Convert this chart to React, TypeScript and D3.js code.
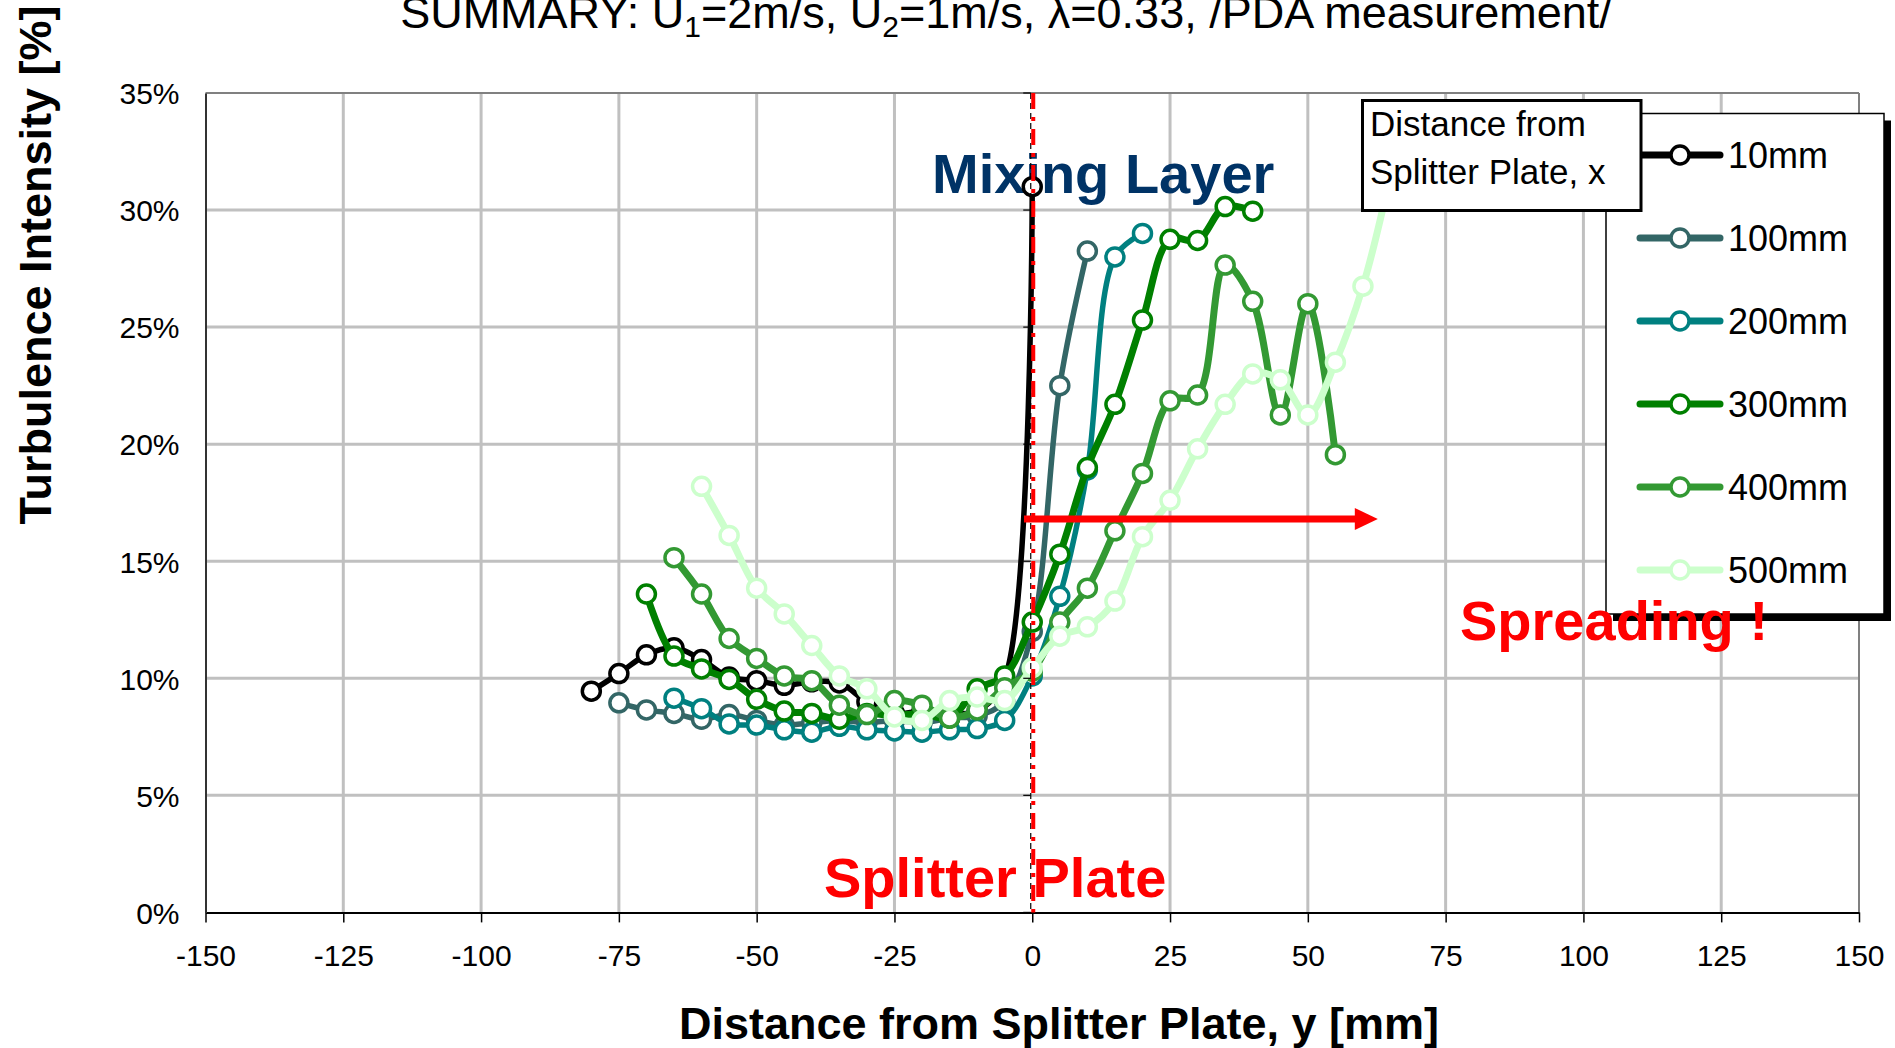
import React, { useEffect, useRef } from 'react';
import * as d3 from 'd3';

const W = 1895;
const H = 1048;
const FONT = '"Liberation Sans", Arial, sans-serif';

const X_TICKS = [-150, -125, -100, -75, -50, -25, 0, 25, 50, 75, 100, 125, 150];
const Y_TICKS = [0, 5, 10, 15, 20, 25, 30, 35];

const SERIES_NAMES = ['10mm', '100mm', '200mm', '300mm', '400mm', '500mm'];
const SERIES_COLORS = ['#000000', '#336666', '#008080', '#008000', '#339933', '#CCFFCC'];
const SERIES_WIDTHS = [5.5, 5.5, 5.5, 7, 7, 7];

const X_10 = [-80, -75, -70, -65, -60, -55, -50, -45, -40, -35, -30, -25, -20, -15, -10, -5, 0];
const Y_10 = [9.45, 10.2, 11.0, 11.3, 10.8, 10.05, 9.9, 9.7, 9.85, 9.8, 9.0, 8.5, 8.6, 8.5, 8.6, 10.0, 31.0];

const X_100 = [-75, -70, -65, -60, -55, -50, -45, -40, -35, -30, -25, -20, -15, -10, -5, 0, 5, 10];
const Y_100 = [8.95, 8.65, 8.5, 8.25, 8.45, 8.2, 8.0, 8.1, 8.2, 8.1, 8.2, 8.1, 8.3, 8.4, 9.0, 12.0, 22.5, 28.25];

const X_200 = [-65, -60, -55, -50, -45, -40, -35, -30, -25, -20, -15, -10, -5, 0, 5, 10, 15, 20];
const Y_200 = [9.15, 8.7, 8.05, 8.0, 7.8, 7.7, 7.95, 7.8, 7.75, 7.7, 7.8, 7.85, 8.2, 10.1, 13.5, 18.9, 28.0, 29.0];

const X_300 = [-70, -65, -60, -55, -50, -45, -40, -35, -30, -25, -20, -15, -10, -5, 0, 5, 10, 15, 20, 25, 30, 35, 40];
const Y_300 = [13.6, 10.95, 10.4, 9.95, 9.1, 8.6, 8.5, 8.25, 8.5, 8.4, 8.5, 8.3, 9.55, 10.1, 12.4, 15.3, 19.0, 21.7, 25.3, 28.75, 28.7, 30.15, 29.95];

const X_400 = [-65, -60, -55, -50, -45, -40, -35, -30, -25, -20, -15, -10, -5, 0, 5, 10, 15, 20, 25, 30, 35, 40, 45, 50, 55];
const Y_400 = [15.15, 13.6, 11.7, 10.85, 10.1, 9.9, 8.85, 8.45, 9.05, 8.85, 8.3, 8.65, 9.6, 10.3, 12.4, 13.85, 16.3, 18.75, 21.85, 22.1, 27.65, 26.1, 21.25, 26.0, 19.55];

const X_500 = [-60, -55, -50, -45, -40, -35, -30, -25, -20, -15, -10, -5, 0, 5, 10, 15, 20, 25, 30, 35, 40, 45, 50, 55, 60, 65];
const Y_500 = [18.2, 16.1, 13.85, 12.75, 11.4, 10.1, 9.55, 8.35, 8.2, 9.05, 9.2, 9.05, 10.45, 11.8, 12.2, 13.3, 16.05, 17.6, 19.8, 21.7, 23.0, 22.75, 21.25, 23.5, 26.75, 31.5];

const SERIES_X = [X_10, X_100, X_200, X_300, X_400, X_500];
const SERIES_Y = [Y_10, Y_100, Y_200, Y_300, Y_400, Y_500];

export default function App() {
  const ref = useRef<SVGSVGElement>(null);

  useEffect(() => {
    const svg = d3.select(ref.current);
    svg.selectAll('*').remove();

    const left = 205.5, right = 1859, top = 93, bottom = 912.4;
    const x = d3.scaleLinear().domain([-150, 150]).range([left, right]);
    const y = d3.scaleLinear().domain([0, 35]).range([bottom, top]);

    svg.append('rect').attr('width', W).attr('height', H).attr('fill', '#fff');

    // gridlines
    const grid = svg.append('g');
    grid.selectAll('line.h').data(Y_TICKS.filter(v => v > 0 && v < 35)).enter().append('line')
      .attr('x1', left).attr('x2', right).attr('y1', d => y(d)).attr('y2', d => y(d))
      .attr('stroke', '#c0c0c0').attr('stroke-width', 3);
    grid.selectAll('line.v').data(X_TICKS.filter(v => v !== 0 && v !== -150 && v !== 150)).enter().append('line')
      .attr('x1', d => x(d)).attr('x2', d => x(d)).attr('y1', top).attr('y2', bottom)
      .attr('stroke', '#c0c0c0').attr('stroke-width', 3);

    // frame top/right
    svg.append('line').attr('x1', left).attr('x2', right).attr('y1', top).attr('y2', top)
      .attr('stroke', '#808080').attr('stroke-width', 2);
    svg.append('line').attr('x1', right).attr('x2', right).attr('y1', top).attr('y2', bottom)
      .attr('stroke', '#808080').attr('stroke-width', 2);

    // axes
    const xAxis = svg.append('g').attr('transform', `translate(0,${bottom})`)
      .call(d3.axisBottom(x).tickValues(X_TICKS).tickSize(10).tickSizeOuter(0).tickFormat(d => String(d)));
    xAxis.select('.domain').attr('stroke', '#000').attr('stroke-width', 2);
    xAxis.selectAll('.tick line').attr('stroke', '#000').attr('stroke-width', 1.5);
    xAxis.selectAll('.tick text').attr('y', 54).attr('dy', 0)
      .attr('font-size', 30).attr('font-family', FONT).attr('fill', '#000');

    const yAxis = svg.append('g').attr('transform', `translate(${left},0)`)
      .call(d3.axisLeft(y).tickValues(Y_TICKS).tickSize(0).tickSizeOuter(0).tickFormat(d => `${d}%`));
    yAxis.select('.domain').attr('stroke', '#333').attr('stroke-width', 2);
    yAxis.selectAll('.tick text').attr('x', -26).attr('dy', '0.36em')
      .attr('font-size', 30).attr('font-family', FONT).attr('fill', '#000');

    // axis titles
    svg.append('text').attr('transform', 'translate(51,265) rotate(-90)')
      .attr('text-anchor', 'middle').attr('font-size', 45).attr('font-weight', 'bold')
      .attr('font-family', FONT).text('Turbulence Intensity [%]');
    svg.append('text').attr('x', 1059).attr('y', 1039)
      .attr('text-anchor', 'middle').attr('font-size', 45).attr('font-weight', 'bold')
      .attr('font-family', FONT).text('Distance from Splitter Plate, y [mm]');

    // title
    const t = svg.append('text').attr('x', 1006).attr('y', 28).attr('text-anchor', 'middle')
      .attr('font-size', 45).attr('font-family', FONT).attr('fill', '#000');
    t.append('tspan').text('SUMMARY: U');
    t.append('tspan').attr('font-size', 30).attr('dy', 9).text('1');
    t.append('tspan').attr('dy', -9).text('=2m/s, U');
    t.append('tspan').attr('font-size', 30).attr('dy', 9).text('2');
    t.append('tspan').attr('dy', -9).text('=1m/s, λ=0.33, /PDA measurement/');

    // annotations under series
    svg.append('text').attr('x', 932).attr('y', 193).attr('font-size', 56).attr('font-weight', 'bold')
      .attr('font-family', FONT).attr('fill', '#003366').text('Mixing Layer');
    svg.append('text').attr('x', 824).attr('y', 897).attr('font-size', 56).attr('font-weight', 'bold')
      .attr('font-family', FONT).attr('fill', '#ff0000').text('Splitter Plate');

    // series
    const line = d3.line<[number, number]>()
      .x(d => x(d[0])).y(d => y(d[1]))
      .curve(d3.curveCatmullRom.alpha(0.5));
    SERIES_NAMES.forEach((name, i) => {
      const pts: [number, number][] = SERIES_X[i].map((xv, j) => [xv, SERIES_Y[i][j]]);
      const g = svg.append('g');
      g.append('path').attr('d', line(pts)).attr('fill', 'none')
        .attr('stroke', SERIES_COLORS[i]).attr('stroke-width', SERIES_WIDTHS[i])
        .attr('stroke-linejoin', 'round').attr('stroke-linecap', 'round');
      g.selectAll('circle').data(pts).enter().append('circle')
        .attr('cx', d => x(d[0])).attr('cy', d => y(d[1])).attr('r', 9)
        .attr('fill', '#fff').attr('stroke', SERIES_COLORS[i]).attr('stroke-width', 3.5);
    });

    // splitter plate line (secondary axis + red dash-dot)
    const x0 = x(0);
    svg.append('line').attr('x1', x0 - 1.5).attr('x2', x0 - 1.5).attr('y1', top).attr('y2', bottom)
      .attr('stroke', '#000').attr('stroke-width', 1.2).attr('stroke-dasharray', '6 4');
    svg.selectAll('line.sec').data(Y_TICKS).enter().append('line')
      .attr('x1', x0 - 9).attr('x2', x0 - 1.5).attr('y1', d => y(d)).attr('y2', d => y(d))
      .attr('stroke', '#000').attr('stroke-width', 1.2);
    svg.append('line').attr('x1', x0 + 1).attr('x2', x0 + 1).attr('y1', top).attr('y2', bottom)
      .attr('stroke', '#ff0000').attr('stroke-width', 4).attr('stroke-dasharray', '16 8 4 8');

    // arrow
    const ay = y(16.8);
    const ax1 = x(-1.5), ax2 = x(62.7);
    svg.append('line').attr('x1', ax1).attr('x2', ax2 - 20).attr('y1', ay).attr('y2', ay)
      .attr('stroke', '#ff0000').attr('stroke-width', 7);
    svg.append('path').attr('d', `M${ax2},${ay} L${ax2 - 23},${ay - 11} L${ax2 - 23},${ay + 11} Z`)
      .attr('fill', '#ff0000');

    // legend
    const lx = 1606, ly = 113.5, lw = 278, lh = 500.5;
    svg.append('rect').attr('x', lx + 7).attr('y', ly + 7).attr('width', lw).attr('height', lh).attr('fill', '#000');
    svg.append('rect').attr('x', lx).attr('y', ly).attr('width', lw).attr('height', lh)
      .attr('fill', '#fff').attr('stroke', '#000').attr('stroke-width', 1.5);
    SERIES_NAMES.forEach((name, i) => {
      const cy = 155 + i * 83;
      svg.append('line').attr('x1', 1640).attr('x2', 1720).attr('y1', cy).attr('y2', cy)
        .attr('stroke', SERIES_COLORS[i]).attr('stroke-width', 7).attr('stroke-linecap', 'round');
      svg.append('circle').attr('cx', 1680).attr('cy', cy).attr('r', 9)
        .attr('fill', '#fff').attr('stroke', SERIES_COLORS[i]).attr('stroke-width', 3.5);
      svg.append('text').attr('x', 1728).attr('y', cy).attr('dy', '0.36em')
        .attr('font-size', 36).attr('font-family', FONT).attr('fill', '#000').text(name);
    });

    // legend title box
    svg.append('rect').attr('x', 1362.5).attr('y', 100.5).attr('width', 278.5).attr('height', 110)
      .attr('fill', '#fff').attr('stroke', '#000').attr('stroke-width', 3);
    svg.append('text').attr('x', 1370).attr('y', 136).attr('font-size', 35).attr('font-family', FONT)
      .text('Distance from');
    svg.append('text').attr('x', 1370).attr('y', 184).attr('font-size', 35).attr('font-family', FONT)
      .text('Splitter Plate, x');

    svg.append('text').attr('x', 1460).attr('y', 640).attr('font-size', 56).attr('font-weight', 'bold')
      .attr('font-family', FONT).attr('fill', '#ff0000').text('Spreading !');
  }, []);

  return (
    <div style={{ position: 'absolute', left: 0, top: 0, width: W, height: H }}>
      <svg ref={ref} width={W} height={H} style={{ display: 'block' }} />
    </div>
  );
}
